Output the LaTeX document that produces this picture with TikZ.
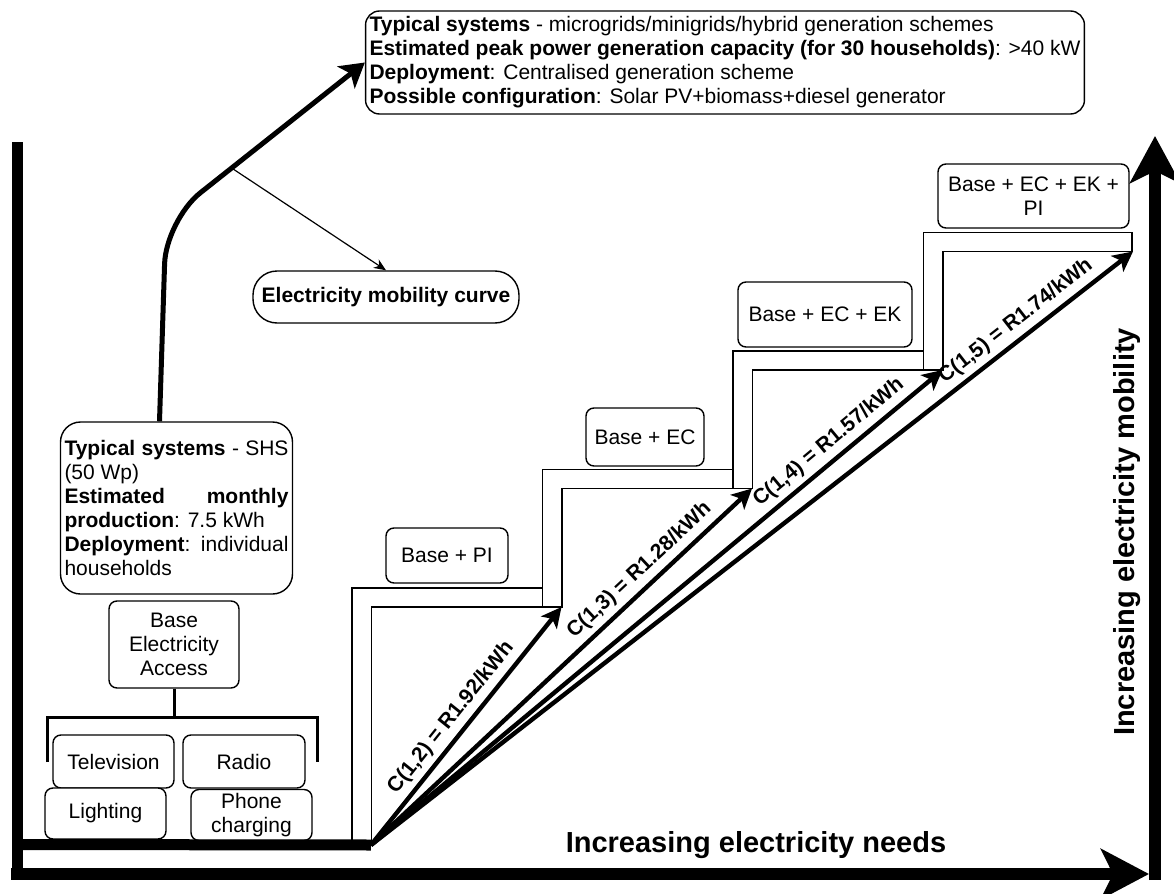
\documentclass[tikz,border=0pt]{standalone}
\usepackage{fontspec}
\setmainfont{Liberation Sans}
\usepackage{tikz}
\usetikzlibrary{arrows.meta}

\begin{document}
\begin{tikzpicture}[x=0.5pt, y=-0.5pt,
		font=\fontsize{10.5}{12}\selectfont,
		box/.style={draw, fill=white, line width=0.7pt, rounded corners=4pt, align=center, inner sep=1pt},
		axisline/.style={line width=5.5pt},
		stair/.style={line width=0.8pt},
		cost/.style={line width=2.2pt, -{Stealth[length=10pt, width=10pt, inset=2.5pt]}},
		costlabel/.style={sloped, above=1.5pt, inner sep=1pt, font=\fontsize{10.5}{12}\selectfont\bfseries},
		biglabel/.style={font=\fontsize{14.5}{17}\selectfont\bfseries}]
	
	\useasboundingbox (0,0) rectangle (1174,894);
	
	%--- Kasten oben und links ---
	\node[box, rounded corners=7pt, inner sep=2pt, align=left, minimum height=51.5pt] (grid) at (725,62.5)
		{\textbf{Typical systems} - microgrids/minigrids/hybrid generation schemes\\
		\textbf{Estimated peak power generation capacity (for 30 households)}: >40 kW\\
		\textbf{Deployment}: Centralised generation scheme\\
		\textbf{Possible configuration}: Solar PV+biomass+diesel generator};
	\node[box, rounded corners=10pt, inner sep=2pt, align=justify, text width=112pt, minimum height=86pt] (shs) at (176.5,508)
		{\textbf{Typical systems} - SHS\linebreak (50 Wp)\par
		\textbf{Estimated monthly}\linebreak \textbf{production}: 7.5 kWh\par
		\textbf{Deployment}: individual\linebreak households};
	\node[box, rounded corners=12pt, minimum width=133pt, minimum height=26pt, font=\fontsize{10.5}{12}\selectfont\bfseries] (mob) at (386,297) {Electricity mobility curve};
	
	%--- Kurve ---
	\draw[line width=2.5pt, rounded corners=22pt, -{Stealth[length=12pt, width=14pt, inset=3pt]}] ([xshift=-8.5pt]shs.north)
		-- (166,220) -- node[coordinate, pos=0.33] (oncurve) {} (grid.west);
	\draw[line width=0.6pt, -{Stealth[length=6pt, width=5pt]}] (oncurve) -- (mob.north);
	
	%--- Grundversorgung ---
	\node[box, minimum width=65pt, minimum height=43.5pt] (base) at (174,644.5) {Base\\Electricity\\Access};
	\node[box, minimum width=60.5pt, minimum height=26.5pt] (tv) at (113.5,761.5) {Television};
	\node[box, minimum width=61pt, minimum height=26.5pt] (radio) at (244,761.5) {Radio};
	\node[box, minimum width=60.5pt, minimum height=25.5pt] (light) at (105.5,813.5) {Lighting};
	\node[box, minimum width=60.5pt, minimum height=25.5pt] (phone) at (251.5,815) {Phone\\charging};
	\coordinate (brL) at (47,762);
	\coordinate (brR) at (317,762);
	\draw[line width=1.5pt] (brL) -- ++(0,-45) -| (brR);
	\draw[line width=1.5pt] (base.south) -- ++(0,29);
	
	%--- Treppe ---
	\foreach \s in {0,...,3} {
		\pgfmathsetmacro\xout{352+190.5*\s}
		\pgfmathsetmacro\xinn{\xout+19.5}
		\pgfmathsetmacro\xend{\s==3 ? 1132 : \xout+190.5}
		\pgfmathsetmacro\ytop{588-118.5*\s}
		\pgfmathsetmacro\yinn{\ytop+19}
		\pgfmathsetmacro\ybot{\s==0 ? 845 : \yinn+118.5}
		\draw[stair] (\xout,\ybot) -- (\xout,\ytop) -- (\xend,\ytop) -- (\xend,\yinn) -- (\xinn,\yinn) -- (\xinn,\ybot) -- cycle;
		\coordinate (top\s) at (\xout+209.5,\yinn); % Spitze des Pfeils
	}
	\node[box, minimum width=61pt, minimum height=27.5pt] (pi) at (447,555.5) {Base + PI};
	\node[box, minimum width=59pt, minimum height=29pt] (ec) at (645,437) {Base + EC};
	\node[box, minimum width=87pt, minimum height=32.5pt] (ecek) at (825,314.5) {Base + EC + EK};
	\node[box, minimum width=95.5pt, minimum height=32pt] (ecekpi) at (1033.5,196) {Base + EC + EK +\\PI};
	
	%--- Kostenpfeile ---
	\coordinate (O) at (371,845);
	\foreach \s/\cost/\where in {0/1.92/0.49, 1/1.28/0.735, 2/1.57/0.82, 3/1.74/0.86} {
		\pgfmathtruncatemacro\k{\s+2}
		\draw[cost] (O) -- node[costlabel, pos=\where] {C(1,\k) = R\cost/kWh} (top\s);
	}
	
	%--- Achsen ---
	\draw[axisline] (17,142) -- (17,880);
	\draw[axisline] (17,844.5) -- (O);
	\draw[axisline, line width=6pt, -{Stealth[length=24pt, width=25pt, inset=6pt]}] (11,874) -- (1149,874);
	\draw[axisline, line width=6pt, -{Stealth[length=23.5pt, width=25pt, inset=6pt]}] (1155,880) -- (1155,136);
	\node[biglabel] (needs) at (756,845) {Increasing electricity needs};
	\node[biglabel, rotate=90] (mobility) at (1127,532) {Increasing electricity mobility};
	
\end{tikzpicture}
\end{document}
